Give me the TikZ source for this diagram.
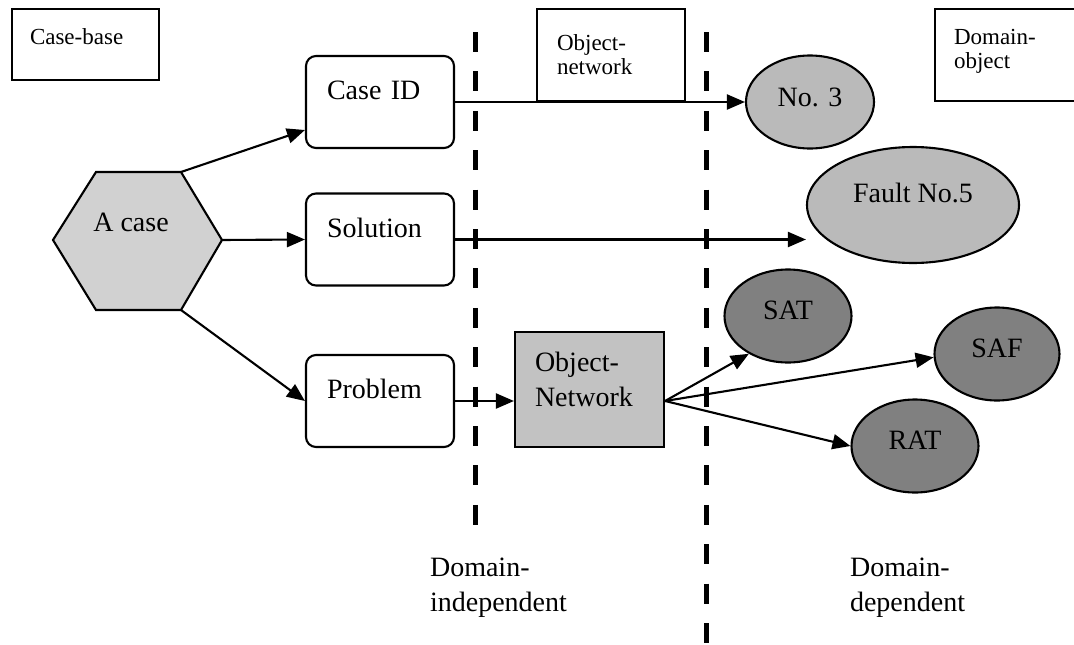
\documentclass[tikz,border=0pt]{standalone}
\usepackage{fontspec}
\setmainfont{Liberation Serif}
\usetikzlibrary{arrows.meta,shapes.geometric}

\definecolor{hexfill}{gray}{0.82}
\definecolor{netfill}{gray}{0.76}
\definecolor{litefill}{gray}{0.73}
\definecolor{darkfill}{gray}{0.50}

\begin{document}
\begin{tikzpicture}[x=1pt,y=-1pt,
  line width=2.1pt,
  bigtext/.style={font=\fontsize{28}{35}\selectfont},
  smalltext/.style={font=\fontsize{23}{24}\selectfont},
  tag/.style={draw, rectangle, smalltext, align=left, inner ysep=0pt},
  casebox/.style={draw, rectangle, rounded corners=10pt, bigtext, align=left,
     inner xsep=21pt, inner ysep=0pt, text width=106pt, minimum height=92pt,
     text height=20pt, text depth=25pt},
  obj/.style={draw, ellipse, bigtext, inner sep=0pt, text height=20pt},
  link/.style={-{Triangle[length=18pt,width=15pt]}},
  divider/.style={line width=5pt, dash pattern=on 20pt off 19.4pt},
  note/.style={bigtext, align=left, text width=220pt, inner sep=0pt, anchor=base west}
]
% canvas
\fill[white] (0,0) rectangle (1074,645);
\clip (0,0) rectangle (1074,645);

% layer captions
\node[tag, text width=111pt, inner xsep=18pt, minimum height=71pt,
      text height=16pt, text depth=16pt] (casebase) at (85.5,44.5) {Case-base};
\node[tag, text width=108pt, inner xsep=20pt, minimum height=92pt,
      text height=16pt, text depth=25pt] (objnettag) at (611,55) {Object-\\network};
\node[tag, text width=117pt, inner xsep=19pt, minimum height=92pt,
      text height=16pt, text depth=37pt] (domobjtag) at (1012.5,55) {Domain-\\object};

% the case hexagon
\coordinate (hL)  at (53,240);
\coordinate (hTL) at (96,172);
\coordinate (hTR) at (181,172);
\coordinate (hR)  at (222,240);
\coordinate (hBR) at (181,310);
\coordinate (hBL) at (96,310);
\draw[fill=hexfill, line join=miter] (hL) -- (hTL) -- (hTR) -- (hR) -- (hBR) -- (hBL) -- cycle;
\node[bigtext, inner sep=0pt] (acase) at (131,222) {A case};

% case parts
\node[casebox] (caseid)   at (380,102)   {Case ID};
\node[casebox] (solution) at (380,239.5) {Solution};
\node[casebox] (problem)  at (380,401)   {Problem};

% object network
\node[draw, fill=netfill, rectangle, bigtext, align=left, text width=109pt,
      inner xsep=20pt, inner ysep=0pt, minimum height=115pt,
      text height=20pt, text depth=56pt] (objnet) at (589.5,389.5) {Object-\\Network};

% domain objects
\node[obj, fill=litefill, minimum width=128pt, minimum height=93pt, text depth=11pt] (no3) at (810,102) {No. 3};
\node[obj, fill=litefill, minimum width=212pt, minimum height=116pt, text depth=25pt] (fault) at (913,205) {Fault No.5};
\node[obj, fill=darkfill, minimum width=127pt, minimum height=93pt, text depth=13pt] (sat) at (788,316) {SAT};
\node[obj, fill=darkfill, minimum width=125pt, minimum height=93pt, text depth=13pt] (saf) at (997,354) {SAF};
\node[obj, fill=darkfill, minimum width=127pt, minimum height=93pt, text depth=13pt] (rat) at (915,446) {RAT};

% connectors
\draw[link] (hTR) -- ([yshift=-28pt]caseid.west);
\draw[link] (hR) -- (solution.west);
\draw[link] (hBR) -- (problem.west);
\draw[link] (caseid.east) -- (no3.west);
\draw[link] (solution.east) -- (solution.east -| fault.west);
\draw[link] (problem.east) -- (problem.east -| objnet.west);
\coordinate (fan) at (problem.east -| objnet.east);
\draw[link] (fan) -- (sat.224);
\draw[link] (fan) -- (saf.183);
\draw[link] (fan) -- (rat.west);

% domain boundaries
\coordinate (d1top) at (475,32);
\coordinate (d1bot) at (475,528);
\coordinate (d2top) at (706,32);
\coordinate (d2bot) at (706,660);
\draw[divider] (d1top) -- (d1bot);
\draw[divider] (d2top) -- (d2bot);

% region labels
\node[note] (indep) at (429,576) {Domain-\\independent};
\node[note] (dep)   at (849,576) {Domain-\\dependent};
\end{tikzpicture}
\end{document}
